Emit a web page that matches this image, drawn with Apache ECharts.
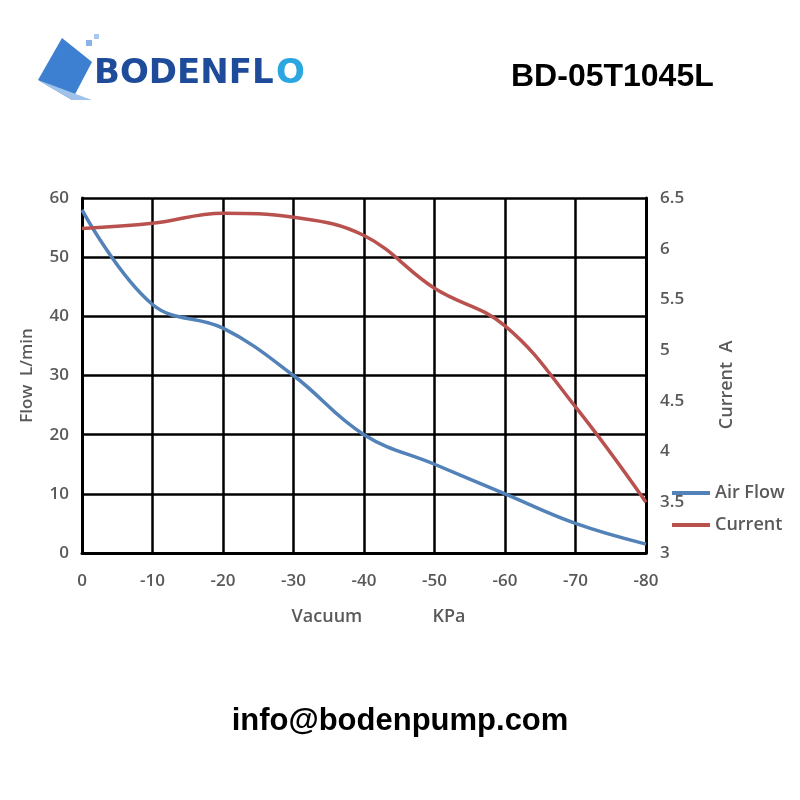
<!DOCTYPE html>
<html>
<head>
<meta charset="utf-8">
<script src="https://cdn.jsdelivr.net/npm/echarts@6/dist/echarts.min.js"></script>
<style>
  html, body { margin: 0; padding: 0; background: #fff; }
  #chart { width: 800px; height: 800px; }
</style>
</head>
<body>
<div id="chart"></div>
<script>
  var vacuum = [0, -10, -20, -30, -40, -50, -60, -70, -80];
  var airFlow = [58, 42, 38, 30, 20, 15, 10, 5, 1.5];
  var current = [6.2, 6.25, 6.35, 6.31, 6.13, 5.61, 5.24, 4.44, 3.5];

  var gray = '#595959';
  var font = 'Open Sans';

  function pairs(xs, ys) {
    return xs.map(function (x, i) { return [x, ys[i]]; });
  }

  var myChart = echarts.init(document.getElementById('chart'));

  var option = {
    backgroundColor: '#fff',
    animation: false,
    color: ['#5282b8', '#b9524f'],
    graphic: [
      // logo mark
      { type: 'polygon', shape: { points: [[38, 80], [62, 38], [92, 62], [72, 100]] },
        style: { fill: '#3d7fd0' } },
      { type: 'polygon', shape: { points: [[38, 80], [72, 100], [92, 100]] },
        style: { fill: '#9fc3ea' } },
      { type: 'rect', shape: { x: 86, y: 40, width: 6, height: 6 }, style: { fill: '#8ab4e8' } },
      { type: 'rect', shape: { x: 94, y: 34, width: 5, height: 5 }, style: { fill: '#a9c8ee' } },
      { type: 'text', left: 94, top: 57,
        style: { text: 'BODENFL', fill: '#1f4c9a', font: 'bold 34px "DejaVu Sans"' } },
      { type: 'text', left: 276, top: 57,
        style: { text: 'O', fill: '#2aa6e0', font: 'bold 34px "DejaVu Sans"' } },
      { type: 'text', left: 511, top: 61,
        style: { text: 'BD-05T1045L', fill: '#000', font: 'bold 32px "Liberation Sans"' } },
      { type: 'text', left: 'center', top: 706,
        style: { text: 'info@bodenpump.com', fill: '#000', font: 'bold 31px "Liberation Sans"' } }
    ],
    legend: {
      orient: 'vertical',
      left: 667,
      top: 479,
      itemWidth: 38,
      itemHeight: 4,
      itemGap: 14,
      icon: 'rect',
      textStyle: { color: gray, fontFamily: font, fontSize: 18, fontWeight: 600 },
      data: ['Air Flow', 'Current']
    },
    grid: { left: 82, right: 154, top: 198, bottom: 247 },
    xAxis: {
      type: 'value',
      inverse: true,
      min: -80,
      max: 0,
      interval: 10,
      name: 'Vacuum               KPa',
      nameLocation: 'middle',
      nameGap: 55,
      nameTextStyle: { color: gray, fontFamily: font, fontSize: 18, fontWeight: 600,
        padding: [0, 0, 0, 29] },
      axisLine: { lineStyle: { color: '#000', width: 3 } },
      axisTick: { show: false },
      axisLabel: { color: gray, fontFamily: font, fontSize: 17, fontWeight: 600, margin: 20 },
      splitLine: { show: true, lineStyle: { color: '#000', width: 2.5 } }
    },
    yAxis: [
      {
        type: 'value',
        min: 0,
        max: 60,
        interval: 10,
        name: 'Flow  L/min',
        nameLocation: 'middle',
        nameGap: 46,
        nameTextStyle: { color: gray, fontFamily: font, fontSize: 17, fontWeight: 600 },
        axisLine: { show: true, lineStyle: { color: '#000', width: 3 } },
        axisTick: { show: false },
        axisLabel: { color: gray, fontFamily: font, fontSize: 17, fontWeight: 600, margin: 13 },
        splitLine: { show: true, lineStyle: { color: '#000', width: 2.5 } }
      },
      {
        type: 'value',
        min: 3,
        max: 6.5,
        interval: 0.5,
        position: 'right',
        name: 'Current  A    ',
        nameLocation: 'middle',
        nameGap: 72,
        nameRotate: 90,
        nameTextStyle: { color: gray, fontFamily: font, fontSize: 18, fontWeight: 600 },
        axisLine: { show: true, lineStyle: { color: '#000', width: 3 } },
        axisTick: { show: false },
        axisLabel: { color: gray, fontFamily: font, fontSize: 17, fontWeight: 600, margin: 14 },
        splitLine: { show: false }
      }
    ],
    series: [
      {
        name: 'Air Flow',
        type: 'line',
        smooth: 0.4,
        showSymbol: false,
        yAxisIndex: 0,
        lineStyle: { width: 3.5 },
        data: pairs(vacuum, airFlow)
      },
      {
        name: 'Current',
        type: 'line',
        smooth: 0.4,
        showSymbol: false,
        yAxisIndex: 1,
        lineStyle: { width: 3.5 },
        data: pairs(vacuum, current)
      }
    ]
  };

  myChart.setOption(option);
</script>
</body>
</html>
